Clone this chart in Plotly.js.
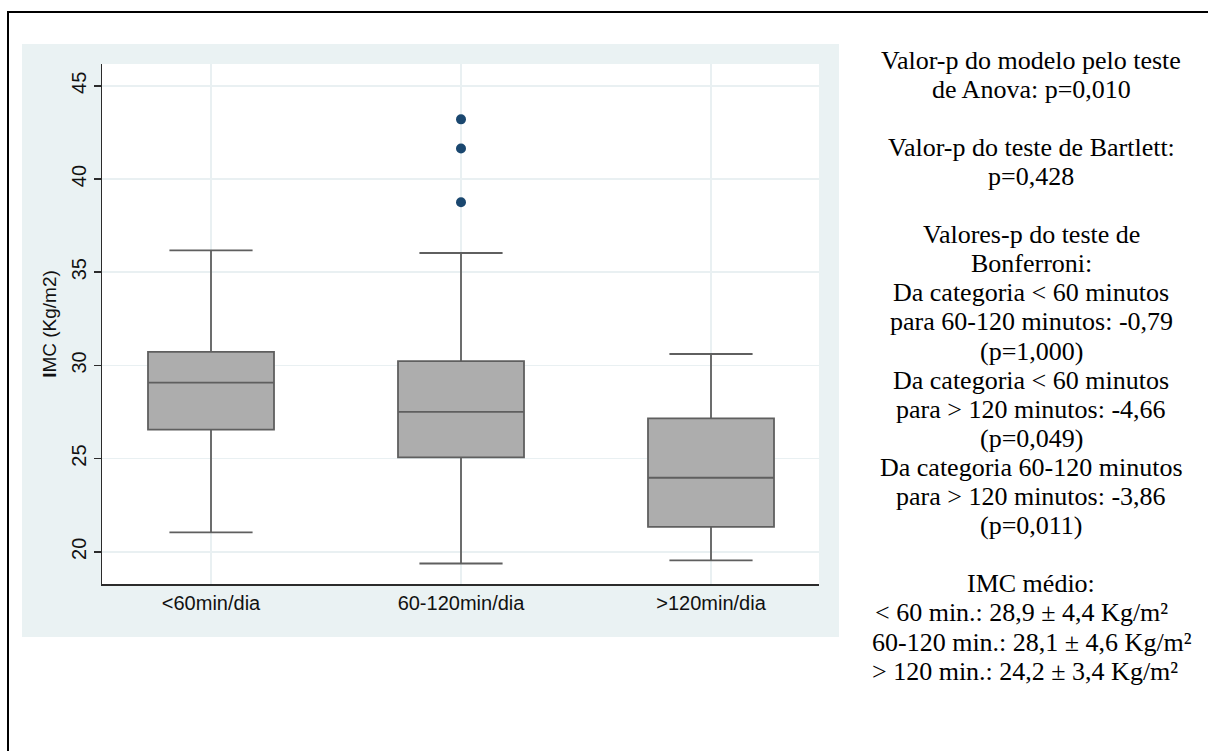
<!DOCTYPE html>
<html>
<head>
<meta charset="utf-8">
<script src="https://cdn.plot.ly/plotly-3.0.1.min.js"></script>
<style>
  html, body { margin: 0; padding: 0; background: #ffffff; overflow: hidden; }
  #wrap { position: relative; width: 1208px; height: 751px; overflow: hidden; }
  #chart { width: 1208px; height: 751px; }
  #frame { position: absolute; left: 7px; top: 11px; width: 1300px; height: 800px;
           border-left: 2.5px solid #000; border-top: 2.5px solid #000;
           pointer-events: none; box-sizing: border-box; }
</style>
</head>
<body>
<div id="wrap">
<div id="chart"></div>
<div id="frame"></div>
</div>
<script>
// ---- Data ----
const categories = ["<60min/dia", "60-120min/dia", ">120min/dia"];
const lowerWhisker = [21.04, 19.37, 19.54];
const q1Values = [26.55, 25.06, 21.34];
const medianValues = [29.07, 27.51, 23.97];
const q3Values = [30.72, 30.23, 27.16];
const upperWhisker = [36.17, 36.03, 30.61];
const outlierCategories = ["60-120min/dia", "60-120min/dia", "60-120min/dia"];
const outlierValues = [43.2, 41.64, 38.75];
const yTickValues = [20, 25, 30, 35, 40, 45];
const yAxisTitle = "<b>I</b>MC (Kg/m2)";

const statLines = [
  "Valor-p do modelo pelo teste",
  "de Anova: p=0,010",
  "",
  "Valor-p do teste de Bartlett:",
  "p=0,428",
  "",
  "Valores-p do teste de",
  "Bonferroni:",
  "Da categoria &lt; 60 minutos",
  "para 60-120 minutos: -0,79",
  "(p=1,000)",
  "Da categoria &lt; 60 minutos",
  "para &gt; 120 minutos: -4,66",
  "(p=0,049)",
  "Da categoria 60-120 minutos",
  "para &gt; 120 minutos: -3,86",
  "(p=0,011)",
  "",
  "IMC médio:",
  "&lt; 60 min.: 28,9 ± 4,4 Kg/m²",
  "60-120 min.: 28,1 ± 4,6 Kg/m²",
  "&gt; 120 min.: 24,2 ± 3,4 Kg/m²"
];

// ---- Layout geometry (pixels) ----
const W = 1208, H = 751;
const M = { l: 102, r: 389, t: 64, b: 167 };
const PW = W - M.l - M.r, PH = H - M.t - M.b;
const px2x = p => (p - M.l) / PW;
const px2y = p => (H - M.b - p) / PH;

const boxLine = "#5f5f5f";
const sansFont = "Liberation Sans, Arial, Helvetica, sans-serif";
const serifFont = "Liberation Serif, Times New Roman, serif";

const traces = [
  {
    type: "box",
    x: categories,
    q1: q1Values,
    median: medianValues,
    q3: q3Values,
    lowerfence: lowerWhisker,
    upperfence: upperWhisker,
    boxpoints: false,
    width: 0.504,
    whiskerwidth: 0.66,
    fillcolor: "#adadad",
    line: { color: boxLine, width: 1.8 },
    hoverinfo: "skip",
    showlegend: false
  },
  {
    type: "scatter",
    mode: "markers",
    x: outlierCategories,
    y: outlierValues,
    marker: { color: "#1a476f", size: 10 },
    hoverinfo: "skip",
    showlegend: false
  }
];

// text annotations on the right
const lineStart = 60, lineStep = 29.1;
const lineCenterX = 1031;
const annotations = [];
statLines.forEach((t, k) => {
  if (!t) return;
  let cx = lineCenterX;
  if (k === 19) cx = 1021;
  if (k === 20) cx = 1032;
  if (k === 21) cx = 1025;
  annotations.push({
    xref: "paper", yref: "paper",
    x: px2x(cx), y: px2y(lineStart + k * lineStep),
    xanchor: "center", yanchor: "middle",
    text: t, showarrow: false,
    font: { family: serifFont, size: 26, color: "#000000" }
  });
});

const shapes = [
  // graph region background
  { type: "rect", xref: "paper", yref: "paper", layer: "below",
    x0: px2x(22), x1: px2x(839), y0: px2y(637), y1: px2y(44),
    fillcolor: "#eaf2f3", line: { width: 0 } },
  // plot region
  { type: "rect", xref: "paper", yref: "paper", layer: "below",
    x0: 0, x1: 1, y0: 0, y1: 1,
    fillcolor: "#ffffff", line: { width: 0 } }
];

const layout = {
  width: W, height: H,
  margin: M,
  paper_bgcolor: "#ffffff",
  plot_bgcolor: "#ffffff",
  showlegend: false,
  xaxis: {
    type: "category",
    categoryorder: "array",
    categoryarray: categories,
    range: [-0.436, 2.432],
    showgrid: true,
    gridcolor: "#e9f0f2",
    gridwidth: 1.5,
    showline: true,
    linecolor: "#2b2b2b",
    linewidth: 1.5,
    ticks: "",
    zeroline: false,
    tickfont: { family: sansFont, size: 20, color: "#111111" }
  },
  yaxis: {
    range: [18.27, 46.17],
    tickvals: yTickValues,
    ticktext: yTickValues.map(String),
    tickangle: -90,
    showgrid: true,
    gridcolor: "#e9f0f2",
    gridwidth: 1.5,
    showline: true,
    linecolor: "#2b2b2b",
    linewidth: 1.5,
    ticks: "outside",
    ticklen: 7,
    tickwidth: 1.5,
    tickcolor: "#2b2b2b",
    zeroline: false,
    tickfont: { family: sansFont, size: 20, color: "#111111" },
    title: { text: yAxisTitle, standoff: 6,
             font: { family: sansFont, size: 19, color: "#111111" } }
  },
  shapes: shapes,
  annotations: annotations
};

Plotly.newPlot("chart", traces, layout, { staticPlot: true, displayModeBar: false });
</script>
</body>
</html>
